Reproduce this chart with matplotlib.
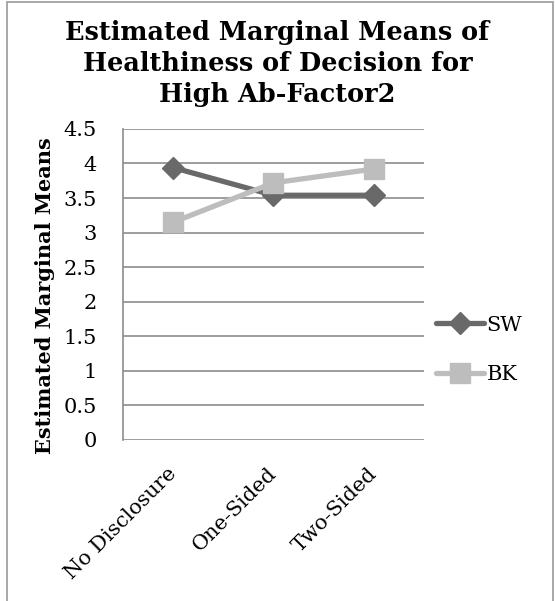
import matplotlib.pyplot as plt
from matplotlib.patches import Rectangle

categories = ["No Disclosure", "One-Sided", "Two-Sided"]
sw_values = [3.94, 3.54, 3.54]
bk_values = [3.15, 3.72, 3.92]
y_ticks = [0, 0.5, 1, 1.5, 2, 2.5, 3, 3.5, 4, 4.5]
y_tick_labels = ["0", "0.5", "1", "1.5", "2", "2.5", "3", "3.5", "4", "4.5"]

plt.rcParams["font.family"] = ["DejaVu Serif"]

fig = plt.figure(figsize=(5.55, 6.01), dpi=100)
ax = fig.add_axes([0.2216, 0.268, 0.5423, 0.5175])

x = list(range(len(categories)))
ax.plot(x, sw_values, color="#696969", linewidth=3.8, marker="D",
        markersize=11, label="SW", solid_capstyle="round", zorder=3)
ax.plot(x, bk_values, color="#bdbdbd", linewidth=3.8, marker="s",
        markersize=14, label="BK", solid_capstyle="round", zorder=3)

ax.set_xlim(-0.5, 2.5)
ax.set_ylim(0, 4.5)
ax.set_yticks(y_ticks)
ax.set_yticklabels(y_tick_labels, fontsize=15)
ax.set_xticks(x)
ax.set_xticklabels(categories, fontsize=15, rotation=45, ha="right",
                   va="center", rotation_mode="anchor")
ax.tick_params(axis="x", length=0, pad=22)
ax.tick_params(axis="y", length=0, pad=19)
ax.yaxis.grid(True, color="#8c8c8c", linewidth=1.2)
ax.set_axisbelow(True)
for side in ["top", "right", "bottom"]:
    ax.spines[side].set_visible(False)
ax.spines["left"].set_color("#8c8c8c")
ax.spines["left"].set_linewidth(1.2)

ax.set_ylabel("Estimated Marginal Means", fontsize=15, fontweight="bold")
ax.yaxis.set_label_coords(-0.226, 0.463)
fig.suptitle("Estimated Marginal Means of\nHealthiness of Decision for\nHigh Ab-Factor2",
             fontsize=18.4, fontweight="bold", y=0.967, linespacing=1.3)

ax.legend(loc="center left", bbox_to_anchor=(1.0, 0.29), frameon=False,
          fontsize=15, handlelength=2.3, handletextpad=0.1, labelspacing=1.45,
          borderaxespad=0.2)

fig.patches.append(Rectangle((0.0135, -0.01), 0.9835, 1.006,
                             transform=fig.transFigure, fill=False,
                             edgecolor="#9a9a9a", linewidth=1.2))

fig.savefig("out.png", dpi=100)
